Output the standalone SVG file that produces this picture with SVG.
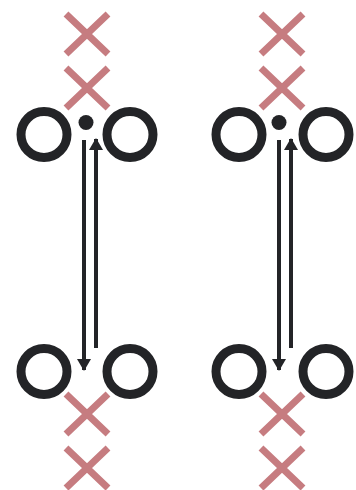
<svg xmlns="http://www.w3.org/2000/svg" width="356" height="490" viewBox="0 0 356 490">
  <style>
    .ring { fill: none; stroke: #232427; stroke-width: 9; }
    .dot { fill: #232427; }
    .cross { stroke: #c67c80; stroke-width: 7; stroke-linecap: butt; fill: none; }
    .link { stroke: #232427; stroke-width: 4; fill: none; }
  </style>
  <defs>
    <marker id="head" markerUnits="userSpaceOnUse" markerWidth="12" markerHeight="14" refX="11" refY="7" viewBox="0 0 12 14" orient="auto">
      <path d="M0,0 L12,7 L0,14 Z" fill="#232427"/>
    </marker>
    <path id="x" d="M-21,-20 L21,20 M21,-20 L-21,20"/>
  </defs>

  <!-- left column -->
  <g id="left-x1" class="cross"><use href="#x" x="87" y="34"/></g>
  <g id="left-x2" class="cross"><use href="#x" x="87" y="88"/></g>
  <g id="left-top-a"><circle class="ring" cx="44" cy="134.5" r="23"/></g>
  <g id="left-top-dot"><circle class="dot" cx="86" cy="122.5" r="7.5"/></g>
  <g id="left-top-b"><circle class="ring" cx="130" cy="134.5" r="23"/></g>
  <g id="left-bot-a"><circle class="ring" cx="44" cy="371.5" r="23"/></g>
  <g id="left-bot-b"><circle class="ring" cx="130" cy="371.5" r="23"/></g>
  <g id="left-x3" class="cross"><use href="#x" x="87" y="414"/></g>
  <g id="left-x4" class="cross"><use href="#x" x="87" y="468"/></g>

  <!-- right column -->
  <g id="right-x1" class="cross"><use href="#x" x="282" y="34"/></g>
  <g id="right-x2" class="cross"><use href="#x" x="282" y="88"/></g>
  <g id="right-top-a"><circle class="ring" cx="239" cy="134.5" r="23"/></g>
  <g id="right-top-dot"><circle class="dot" cx="279" cy="122.5" r="7.5"/></g>
  <g id="right-top-b"><circle class="ring" cx="326" cy="134.5" r="23"/></g>
  <g id="right-bot-a"><circle class="ring" cx="239" cy="371.5" r="23"/></g>
  <g id="right-bot-b"><circle class="ring" cx="326" cy="371.5" r="23"/></g>
  <g id="right-x3" class="cross"><use href="#x" x="282" y="414"/></g>
  <g id="right-x4" class="cross"><use href="#x" x="282" y="468"/></g>

  <!-- connectors -->
  <g id="connectors">
    <line class="link" x1="84" y1="140" x2="84" y2="370" marker-end="url(#head)"/>
    <line class="link" x1="96" y1="348" x2="96" y2="139" marker-end="url(#head)"/>
    <line class="link" x1="279" y1="140" x2="279" y2="370" marker-end="url(#head)"/>
    <line class="link" x1="291" y1="348" x2="291" y2="139" marker-end="url(#head)"/>
  </g>
</svg>
